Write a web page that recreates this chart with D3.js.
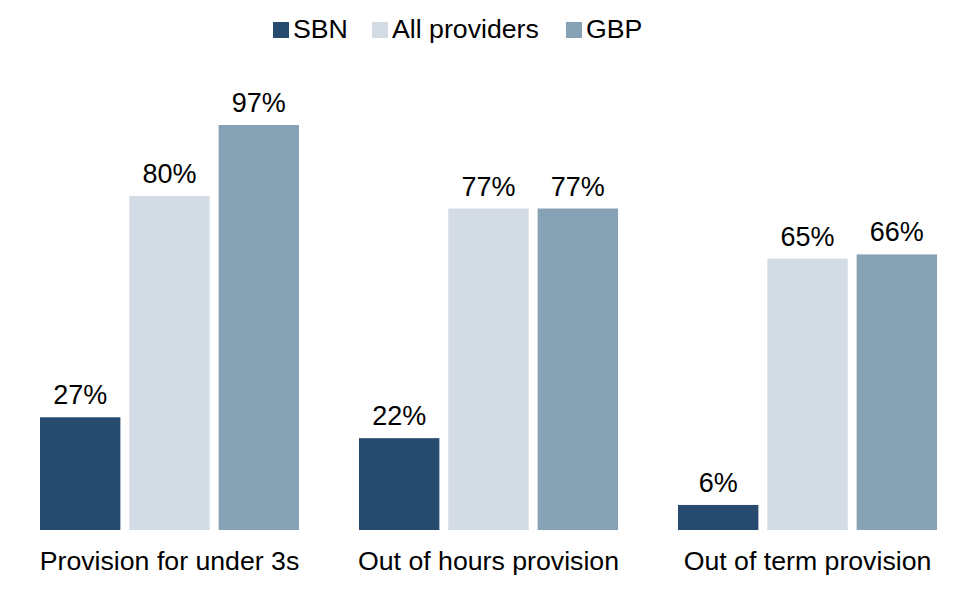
<!DOCTYPE html>
<html><head><meta charset="utf-8">
<script src="https://cdn.jsdelivr.net/npm/d3@7"></script>
<style>body{margin:0;background:#fff}svg{display:block}text{font-family:"Liberation Sans",Arial,sans-serif;fill:#000}</style>
</head><body><svg id="c" width="970" height="603"></svg>
<script>
const categories = ["Provision for under 3s", "Out of hours provision", "Out of term provision"];
const seriesNames = ["SBN", "All providers", "GBP"];
const SBN = [27, 22, 6];
const AllProviders = [80, 77, 65];
const GBP = [97, 77, 66];
const colors = ["#264b6e", "#d3dce4", "#87a2b5"];
const values = [SBN, AllProviders, GBP];

const svg = d3.select("#c");
const x0 = d3.scaleBand().domain(categories).range([10, 967]).paddingInner(0.188).paddingOuter(0.094);
const x1 = d3.scaleBand().domain(seriesNames).range([0, x0.bandwidth()]).paddingInner(0.1).paddingOuter(0);
const y = d3.scaleLinear().domain([0, 100]).range([530, 112.5]);
const color = d3.scaleOrdinal().domain(seriesNames).range(colors);

const data = categories.map((c, i) => ({cat: c, vals: seriesNames.map((s, j) => ({s, v: values[j][i]}))}));

const g = svg.selectAll("g.grp").data(data).join("g").attr("class", "grp")
  .attr("transform", d => `translate(${x0(d.cat)},0)`);
g.selectAll("rect").data(d => d.vals).join("rect")
  .attr("x", d => x1(d.s)).attr("width", x1.bandwidth())
  .attr("y", d => y(d.v)).attr("height", d => y(0) - y(d.v))
  .attr("fill", d => color(d.s));
g.selectAll("text.val").data(d => d.vals).join("text").attr("class", "val")
  .attr("x", d => x1(d.s) + x1.bandwidth() / 2).attr("y", d => y(d.v) - 13)
  .attr("text-anchor", "middle").attr("font-size", 27).text(d => d.v + "%");

const xAxis = svg.append("g").attr("transform", `translate(0,${y(0)})`)
  .call(d3.axisBottom(x0).tickSize(0).tickPadding(0));
xAxis.select(".domain").remove();
xAxis.selectAll("text").attr("y", 40).attr("dy", 0).attr("font-size", 26.7).style("font-family", '"Liberation Sans",Arial,sans-serif').attr("fill", "#000");

const legendX = [273, 372, 566];
const lg = svg.selectAll("g.leg").data(seriesNames).join("g").attr("class", "leg")
  .attr("transform", (d, i) => `translate(${legendX[i]},22)`);
lg.append("rect").attr("width", 16).attr("height", 16).attr("fill", d => color(d));
lg.append("text").attr("x", 20).attr("y", 16).attr("font-size", 26.7).text(d => d);
</script></body></html>
